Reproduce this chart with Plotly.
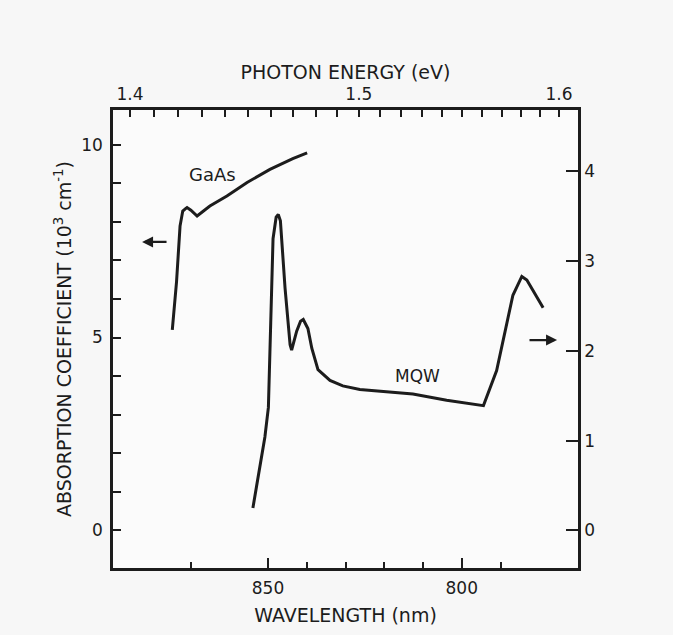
import plotly.graph_objects as go

# ---- data ----
GAAS_WL = [874.7, 873.6, 872.7, 872.0, 871.2, 870.9, 869.9, 868.3, 865.0, 860.6, 855.4, 849.5, 843.6, 839.9]
GAAS_ALPHA = [5.20, 6.45, 7.89, 8.28, 8.35, 8.37, 8.30, 8.15, 8.41, 8.67, 9.02, 9.36, 9.64, 9.79]

MQW_WL = [853.9, 850.8, 849.9, 848.7, 847.9, 847.35, 846.8, 846.5, 845.6, 844.3, 843.9, 842.6, 841.6,
          840.9, 839.7, 838.7, 837.1, 834.0, 830.7, 826.3, 821.1, 812.6, 803.9, 794.4, 791.0, 786.8,
          784.5, 783.2, 779.0]
MQW_ALPHA = [0.25, 1.04, 1.37, 3.25, 3.49, 3.52, 3.45, 3.25, 2.70, 2.07, 2.01, 2.22, 2.33,
             2.35, 2.25, 2.03, 1.79, 1.67, 1.61, 1.57, 1.55, 1.52, 1.45, 1.39, 1.78, 2.62,
             2.83, 2.79, 2.48]

WL_MAJOR = [850, 800]
WL_MINOR = [870, 840, 830, 820, 810, 790]
ENERGY_LABELED = [1.4, 1.5, 1.6]
ENERGY_MINOR = [1.41, 1.42, 1.43, 1.44, 1.45, 1.46, 1.47, 1.48, 1.49,
                1.51, 1.52, 1.53, 1.54, 1.55, 1.56, 1.57, 1.58, 1.59]
LEFT_TICKS = [0, 5, 10]
RIGHT_TICKS = [0, 1, 2, 3, 4]

HC = 1239.84  # eV*nm

INK = "#1c1c1c"
FONT = "DejaVu Sans"

fig = go.Figure()
fig.add_trace(go.Scatter(x=GAAS_WL, y=GAAS_ALPHA, mode="lines", name="GaAs",
                         line=dict(color=INK, width=3), xaxis="x", yaxis="y"))
fig.add_trace(go.Scatter(x=MQW_WL, y=MQW_ALPHA, mode="lines", name="MQW",
                         line=dict(color=INK, width=3), xaxis="x", yaxis="y2"))
# invisible trace to activate the top energy axis
fig.add_trace(go.Scatter(x=[None], y=[None], xaxis="x2", yaxis="y", showlegend=False))

axis_common = dict(showline=True, linecolor=INK, linewidth=2.5, showgrid=False, zeroline=False,
                   tickcolor=INK, tickwidth=2, tickfont=dict(family=FONT, size=17, color=INK))

fig.update_layout(
    width=673, height=635,
    margin=dict(l=113, r=95, t=110, b=63),
    paper_bgcolor="#f7f7f7", plot_bgcolor="#fbfbfb",
    showlegend=False,
    xaxis=dict(range=[890, 770], tickvals=WL_MAJOR, ticktext=[str(v) for v in WL_MAJOR],
               ticks="inside", ticklen=10, ticklabelstandoff=3,
               minor=dict(tickvals=WL_MINOR, ticks="inside", ticklen=6, tickcolor=INK, tickwidth=2),
               title=dict(text="WAVELENGTH (nm)", font=dict(family=FONT, size=19, color=INK), standoff=12),
               **axis_common),
    xaxis2=dict(range=[890, 770], overlaying="x", side="top", anchor="y",
                tickvals=[HC / e for e in ENERGY_LABELED], ticktext=["%.1f" % e for e in ENERGY_LABELED],
                ticks="inside", ticklen=7, ticklabelstandoff=0,
                minor=dict(tickvals=[HC / e for e in ENERGY_MINOR], ticks="inside", ticklen=7,
                           tickcolor=INK, tickwidth=2),
                title=dict(text="PHOTON ENERGY (eV)", font=dict(family=FONT, size=19, color=INK), standoff=0),
                **axis_common),
    yaxis=dict(range=[-0.977, 10.9], tickvals=LEFT_TICKS, ticks="inside", ticklen=8,
               ticklabelstandoff=4,
               minor=dict(dtick=1, ticks="inside", ticklen=8, tickcolor=INK, tickwidth=2),
               title=dict(text="ABSORPTION COEFFICIENT (10<sup>3</sup> cm<sup>-1</sup>)",
                          font=dict(family=FONT, size=19, color=INK), standoff=5),
               **axis_common),
    yaxis2=dict(range=[-0.42, 4.685], overlaying="y", side="right", anchor="x",
                tickvals=RIGHT_TICKS, ticks="inside", ticklen=12,
                **axis_common),
)

# labels and arrows
fig.add_annotation(x=864.2, y=9.23, xref="x", yref="y", text="GaAs", showarrow=False,
                   font=dict(family=FONT, size=18, color=INK))
fig.add_annotation(x=811.3, y=1.72, xref="x", yref="y2", text="MQW", showarrow=False,
                   font=dict(family=FONT, size=17, color=INK))
fig.add_annotation(x=882.5, y=7.48, ax=875.8, ay=7.48, xref="x", yref="y", axref="x", ayref="y",
                   text="", showarrow=True, arrowhead=2, arrowsize=1, arrowwidth=2.2, arrowcolor=INK)
fig.add_annotation(x=775.4, y=2.12, ax=782.9, ay=2.12, xref="x", yref="y2", axref="x", ayref="y2",
                   text="", showarrow=True, arrowhead=2, arrowsize=1, arrowwidth=2.2, arrowcolor=INK)

fig.write_html("out.html", config={"displayModeBar": False},
               post_script="document.body.style.margin='0';")
